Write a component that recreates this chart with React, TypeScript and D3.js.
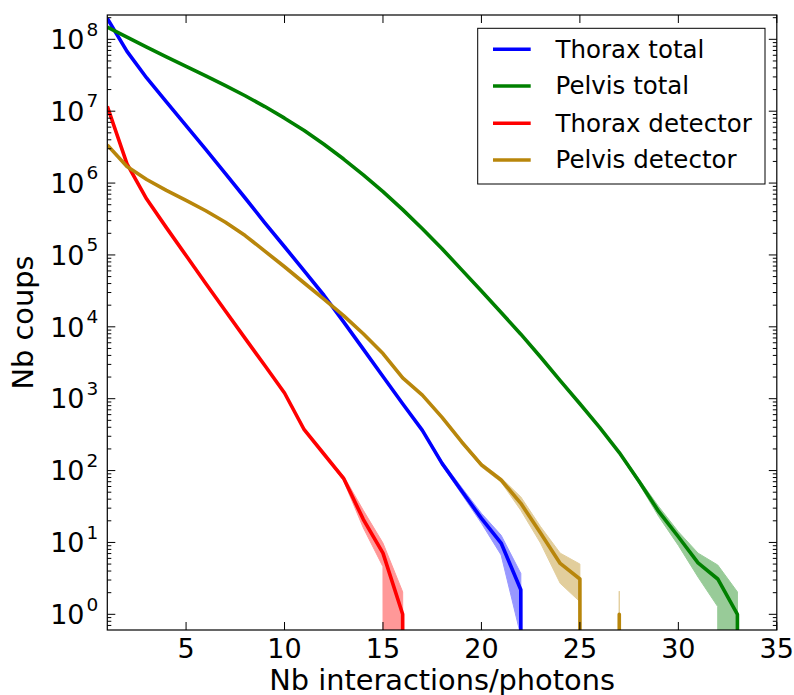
import React from "react";
import * as d3 from "d3";

// ---- data (counts per number of interactions, x = 1, 2, 3, ...) ----
const thoraxTotal = [1.95e8, 6.8e7, 2.9e7, 1.35e7, 6.3e6, 2.95e6, 1.35e6, 6.2e5, 2.8e5, 1.3e5, 6.0e4, 2.75e4, 1.17e4, 4900, 2040, 850, 363, 126, 52, 21.6, 9.8, 2.2, 0];
const pelvisTotal = [1.48e8, 1.07e8, 7.8e7, 5.7e7, 4.2e7, 3.1e7, 2.27e7, 1.64e7, 1.16e7, 8.0e6, 5.4e6, 3.47e6, 2.16e6, 1.3e6, 7.6e5, 4.27e5, 2.32e5, 1.22e5, 6.2e4, 3.16e4, 1.58e4, 7900, 3800, 1780, 850, 400, 178, 71, 27, 12, 5.2, 3.1, 1.0, 0];
const thoraxDetector = [1.17e7, 1.85e6, 6.0e5, 2.4e5, 9.8e4, 4.0e4, 1.66e4, 6900, 2900, 1200, 370, 170, 78, 21, 7.1, 1.0, 0];
const pelvisDetector = [3.4e6, 1.7e6, 1.12e6, 7.9e5, 5.75e5, 4.12e5, 2.85e5, 1.86e5, 1.13e5, 6.85e4, 4.07e4, 2.43e4, 1.43e4, 8000, 4250, 1950, 1120, 550, 250, 120, 74, 35, 13.5, 5.1, 3.1, 0, 1, 0];

// uncertainty bands (only the tail, where they are visible)
const thoraxTotalBandX = [17, 18, 19, 20, 21, 22, 23];
const thoraxTotalBandLo = [350, 118, 47, 18.5, 6.7, 0.5, 0];
const thoraxTotalBandHi = [378, 134, 58, 25.4, 12.6, 3.7, 0];

const pelvisTotalBandX = [27, 28, 29, 30, 31, 32, 33, 34];
const pelvisTotalBandLo = [170, 66, 23, 9.1, 3.3, 1.28, 0, 0];
const pelvisTotalBandHi = [186, 76, 31.6, 14.1, 7.1, 4.85, 2.05, 0];

const thoraxDetectorBandX = [12, 13, 14, 15, 16, 17];
const thoraxDetectorBandLo = [165, 72, 16, 4.6, 0, 0];
const thoraxDetectorBandHi = [175, 84, 28, 9.8, 2.05, 0];

const pelvisDetectorBandX = [19, 20, 21, 22, 23, 24, 25, 26, 27, 28];
const pelvisDetectorBandLo = [240, 112, 69, 28, 9.8, 2.7, 1.5, 0, 0, 0];
const pelvisDetectorBandHi = [260, 128, 79, 43, 16.6, 7.1, 5.0, 0, 2.1, 0];

const seriesNames = ["Thorax total", "Pelvis total", "Thorax detector", "Pelvis detector"];
const seriesColors = ["#0000ff", "#008000", "#ff0000", "#b8860b"];

const xTicks = [5, 10, 15, 20, 25, 30, 35];
const yExponents = [0, 1, 2, 3, 4, 5, 6, 7, 8];
const xLabel = "Nb interactions/photons";
const yLabel = "Nb coups";

// ---- layout ----
const W = 794;
const H = 695;
const L = 107.3, R = 776.8, T = 15, B = 630;
const FLOOR = 1e-300;
const FONT = "'DejaVu Sans', 'Bitstream Vera Sans', sans-serif";

export default function App() {
  const x = d3.scaleLinear().domain([1, 35]).range([L, R]);
  const y = d3.scaleLog().domain([0.605, 2.18e8]).range([B, T]);
  const yv = (v: number) => y(v > 0 ? v : FLOOR);

  const line = d3
    .line<[number, number]>()
    .x((d) => x(d[0]))
    .y((d) => yv(d[1]));

  const area = d3
    .area<[number, number, number]>()
    .x((d) => x(d[0]))
    .y0((d) => yv(d[1]))
    .y1((d) => yv(d[2]));

  const allValues = [thoraxTotal, pelvisTotal, thoraxDetector, pelvisDetector];
  const bands = [
    [thoraxTotalBandX, thoraxTotalBandLo, thoraxTotalBandHi],
    [pelvisTotalBandX, pelvisTotalBandLo, pelvisTotalBandHi],
    [thoraxDetectorBandX, thoraxDetectorBandLo, thoraxDetectorBandHi],
    [pelvisDetectorBandX, pelvisDetectorBandLo, pelvisDetectorBandHi],
  ];

  const minorY: number[] = [];
  for (let k = -1; k <= 8; k++) {
    for (let m = 2; m <= 9; m++) {
      const v = m * Math.pow(10, k);
      if (v > 0.605 && v < 2.18e8) minorY.push(v);
    }
  }

  const legendX0 = 477.7, legendY0 = 28.3, legendW = 287.3, legendH = 155.7;
  const legendRows = [49.3, 86, 123.3, 160];

  return (
    <svg width={W} height={H} style={{ position: "absolute", left: 0, top: 0, background: "#fff" }}>
      <defs>
        <clipPath id="plotclip">
          <rect x={L} y={T} width={R - L} height={B - T} />
        </clipPath>
      </defs>
      <rect x={0} y={0} width={W} height={H} fill="#fff" />

      <g clipPath="url(#plotclip)">
        {allValues.map((vals, i) => {
          const pts: [number, number][] = vals.map((v, j) => [j + 1, v]);
          const [bx, blo, bhi] = bands[i];
          const bpts: [number, number, number][] = bx.map((xx, j) => [xx, blo[j], bhi[j]]);
          return (
            <g key={i}>
              <g opacity={0.4}>
                <path d={area(bpts) || ""} fill={seriesColors[i]} stroke={seriesColors[i]} strokeWidth={1} />
              </g>
              <path
                d={line(pts) || ""}
                fill="none"
                stroke={seriesColors[i]}
                strokeWidth={3.6}
                strokeLinejoin="round"
              />
            </g>
          );
        })}
      </g>

      {/* frame */}
      <rect x={L} y={T} width={R - L} height={B - T} fill="none" stroke="#000" strokeWidth={1.2} />

      {/* x ticks */}
      {xTicks.map((t) => (
        <g key={"xt" + t}>
          <line x1={x(t)} x2={x(t)} y1={B} y2={B - 8} stroke="#000" strokeWidth={1} />
          <line x1={x(t)} x2={x(t)} y1={T} y2={T + 8} stroke="#000" strokeWidth={1} />
          <text x={x(t)} y={658} textAnchor="middle" fontFamily={FONT} fontSize={27} fill="#000">
            {t}
          </text>
        </g>
      ))}

      {/* y ticks */}
      {yExponents.map((e) => {
        const yy = y(Math.pow(10, e));
        return (
          <g key={"yt" + e}>
            <line x1={L} x2={L + 8} y1={yy} y2={yy} stroke="#000" strokeWidth={1} />
            <line x1={R} x2={R - 8} y1={yy} y2={yy} stroke="#000" strokeWidth={1} />
            <text x={84.5} y={yy + 9.8} textAnchor="end" fontFamily={FONT} fontSize={27} fill="#000">
              10
            </text>
            <text x={86.5} y={yy - 3.8} textAnchor="start" fontFamily={FONT} fontSize={18.5} fill="#000">
              {e}
            </text>
          </g>
        );
      })}
      {minorY.map((v, i) => {
        const yy = y(v);
        return (
          <g key={"ym" + i}>
            <line x1={L} x2={L + 4} y1={yy} y2={yy} stroke="#000" strokeWidth={1} />
            <line x1={R} x2={R - 4} y1={yy} y2={yy} stroke="#000" strokeWidth={1} />
          </g>
        );
      })}

      {/* axis labels */}
      <text x={(L + R) / 2} y={689.5} textAnchor="middle" fontFamily={FONT} fontSize={28.8} fill="#000">
        {xLabel}
      </text>
      <text
        transform={`translate(33, ${(T + B) / 2}) rotate(-90)`}
        textAnchor="middle"
        fontFamily={FONT}
        fontSize={28.8}
        fill="#000"
      >
        {yLabel}
      </text>

      {/* legend */}
      <rect x={legendX0} y={legendY0} width={legendW} height={legendH} fill="#fff" stroke="#000" strokeWidth={1} />
      {seriesNames.map((name, i) => (
        <g key={"lg" + i}>
          <line x1={493} x2={530.7} y1={legendRows[i]} y2={legendRows[i]} stroke={seriesColors[i]} strokeWidth={3.4} />
          <text x={555.5} y={legendRows[i] + 8.3} fontFamily={FONT} fontSize={24.5} fill="#000">
            {name}
          </text>
        </g>
      ))}
    </svg>
  );
}
